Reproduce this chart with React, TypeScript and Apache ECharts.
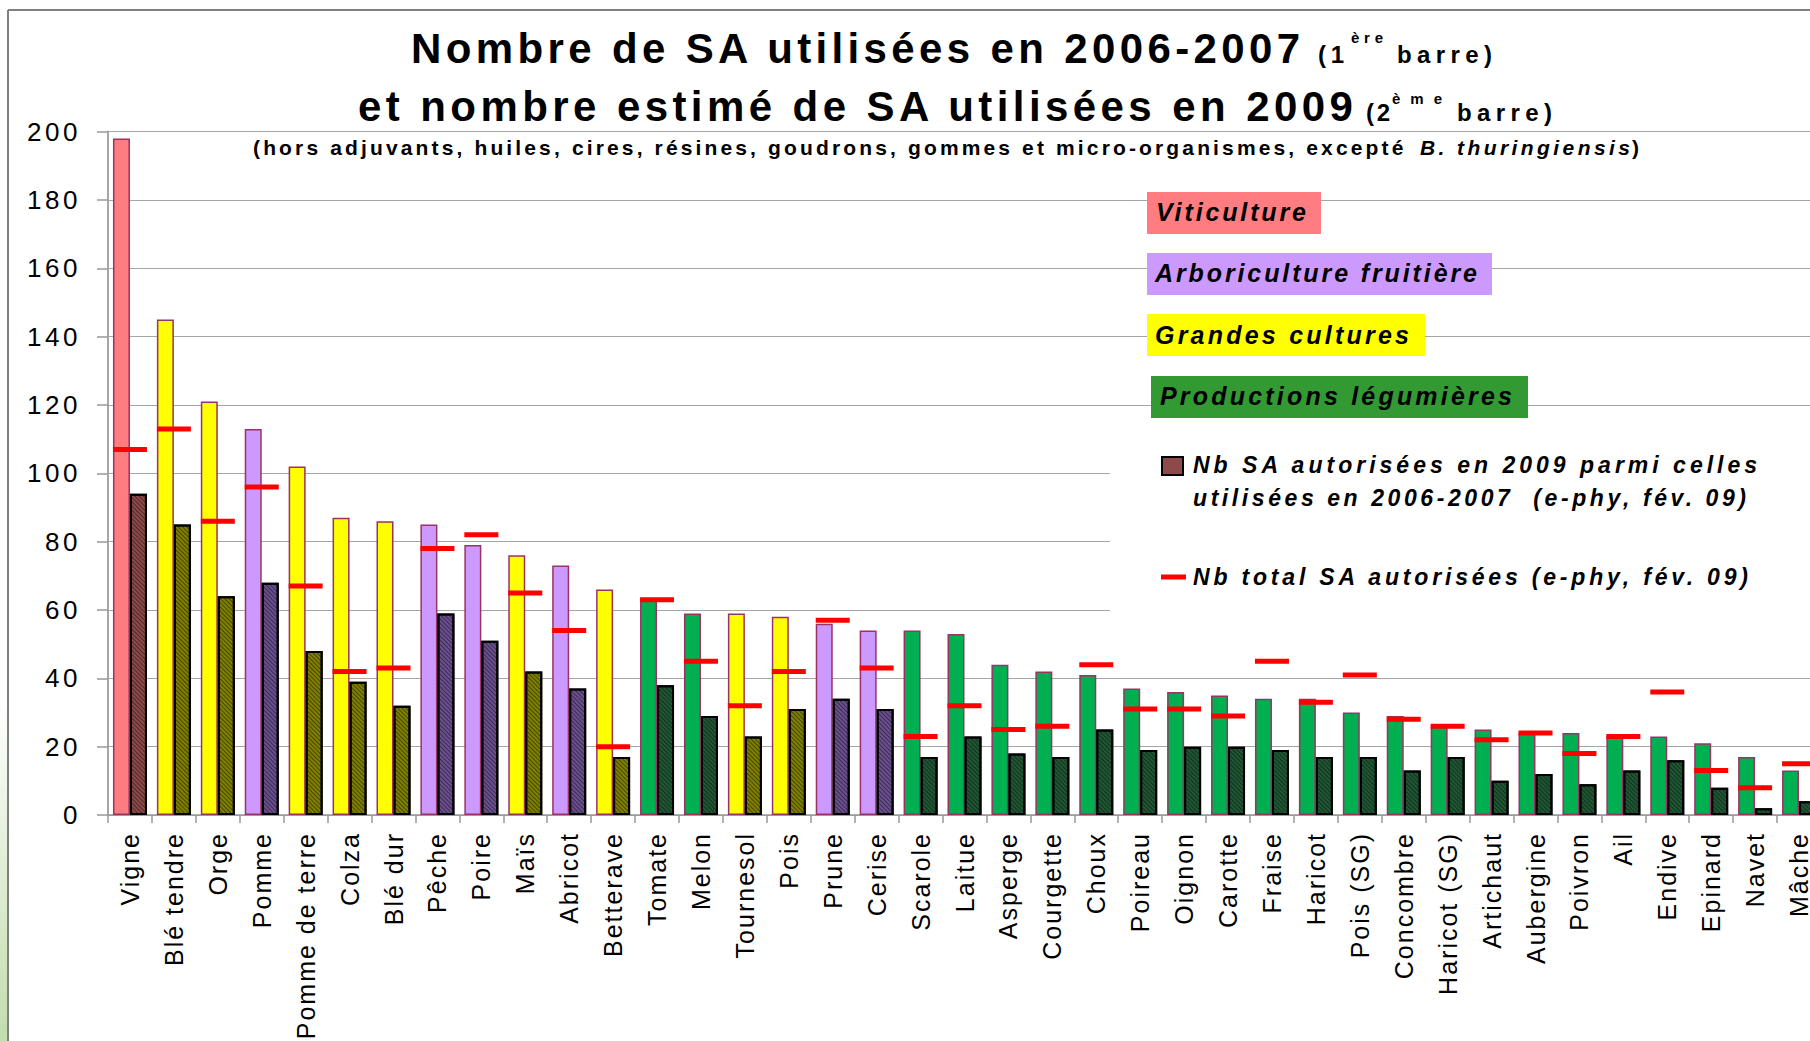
import React, { useEffect, useRef } from 'react';
import * as echarts from 'echarts';

// ---------- DATA ----------
const categories = [
  'Vigne', 'Blé tendre', 'Orge', 'Pomme', 'Pomme de terre', 'Colza', 'Blé dur', 'Pêche', 'Poire', 'Maïs',
  'Abricot', 'Betterave', 'Tomate', 'Melon', 'Tournesol', 'Pois', 'Prune', 'Cerise', 'Scarole', 'Laitue',
  'Asperge', 'Courgette', 'Choux', 'Poireau', 'Oignon', 'Carotte', 'Fraise', 'Haricot', 'Pois (SG)', 'Concombre',
  'Haricot (SG)', 'Artichaut', 'Aubergine', 'Poivron', 'Ail', 'Endive', 'Epinard', 'Navet', 'Mâche',
];
// V = Viticulture, A = Arboriculture fruitière, G = Grandes cultures, L = Productions légumières
const groups = [
  'V', 'G', 'G', 'A', 'G', 'G', 'G', 'A', 'A', 'G',
  'A', 'G', 'L', 'L', 'G', 'G', 'A', 'A', 'L', 'L',
  'L', 'L', 'L', 'L', 'L', 'L', 'L', 'L', 'L', 'L',
  'L', 'L', 'L', 'L', 'L', 'L', 'L', 'L', 'L',
];
const used20062007 = [
  198, 145, 121, 113, 102, 87, 86, 85, 79, 76,
  73, 66, 63, 59, 59, 58, 56, 54, 54, 53,
  44, 42, 41, 37, 36, 35, 34, 34, 30, 29,
  26, 25, 24, 24, 23, 23, 21, 17, 13,
];
const authorized2009 = [
  94, 85, 64, 68, 48, 39, 32, 59, 51, 42,
  37, 17, 38, 29, 23, 31, 34, 31, 17, 23,
  18, 17, 25, 19, 20, 20, 19, 17, 17, 13,
  17, 10, 12, 9, 13, 16, 8, 2, 4,
];
const totalAuthorized = [
  107, 113, 86, 96, 67, 42, 43, 78, 82, 65,
  54, 20, 63, 45, 32, 42, 57, 43, 23, 32,
  25, 26, 44, 31, 31, 29, 45, 33, 41, 28,
  26, 22, 24, 18, 23, 36, 13, 8, 15,
];
const yTickLabels = ['0', '20', '40', '60', '80', '100', '120', '140', '160', '180', '200'];
const yMax = 200;
const yInterval = 20;

const groupLegend = [
  { key: 'V', label: 'Viticulture' },
  { key: 'A', label: 'Arboriculture fruitière' },
  { key: 'G', label: 'Grandes cultures' },
  { key: 'L', label: 'Productions légumières' },
];
const seriesNames = [
  'Nb SA utilisées en 2006-2007',
  'Nb SA autorisées en 2009 parmi celles utilisées en 2006-2007 (e-phy, fév. 09)',
  'Nb total SA autorisées (e-phy, fév. 09)',
];

// ---------- STYLE ----------
const FONT = '"Liberation Sans", Arial, Helvetica, sans-serif';
const lightColors: Record<string, string> = { V: '#FF7C80', A: '#CC99FF', G: '#FFFF00', L: '#00B050' };
const darkColors: Record<string, string> = { V: '#8E4A4A', A: '#6B5090', G: '#808000', L: '#205835' };
const legendBoxColors: Record<string, string> = { V: '#FF7C80', A: '#CC99FF', G: '#FFFF00', L: '#339933' };

// visual widths (px) used to reproduce the wide letter-spacing of the original
const spacingTargets: Record<string, number> = {
  'Nombre de SA utilisées en 2006-2007': 889,
  'et nombre estimé de SA utilisées en 2009': 995,
  '(1': 26,
  '(2': 24,
  'ère': 32,
  'ème': 50,
  'barre)': 95,
  '(hors adjuvants, huiles, cires, résines, goudrons, gommes et micro-organismes, excepté ': 1159,
  'B. thuringiensis': 210,
  'Viticulture': 150,
  'Arboriculture fruitière': 322,
  'Grandes cultures': 254,
  'Productions légumières': 352,
  'Nb SA autorisées en 2009 parmi celles': 564,
  'utilisées en 2006-2007  (e-phy, fév. 09)': 553,
  'Nb total SA autorisées (e-phy, fév. 09)': 555,
};

const txt = (
  text: string, x: number, y: number, fontSize: number,
  fontStyle = 'normal', fontWeight = 'bold'
) => ({
  type: 'text',
  x, y, z: 30, silent: true,
  style: {
    text, fill: '#000', fontSize, fontWeight, fontStyle, fontFamily: FONT,
    textAlign: 'left', textVerticalAlign: 'middle', align: 'left', verticalAlign: 'middle',
  },
});

function applySpacing(root: HTMLElement) {
  const ySet = new Set(yTickLabels);
  const cSet = new Set(categories);
  root.querySelectorAll('text').forEach((node) => {
    const t = node as SVGTextElement;
    const s = t.textContent || '';
    let sp: number | null = null;
    if (Object.prototype.hasOwnProperty.call(spacingTargets, s)) {
      t.removeAttribute('letter-spacing');
      const len = t.getComputedTextLength();
      if (s.length > 1) sp = (spacingTargets[s] - len) / (s.length - 1);
    } else if (ySet.has(s)) {
      sp = 3.5;
    } else if (cSet.has(s)) {
      sp = 2;
    }
    if (sp !== null && isFinite(sp)) t.setAttribute('letter-spacing', sp.toFixed(2));
  });
}

export default function App() {
  const ref = useRef<HTMLDivElement>(null);

  useEffect(() => {
    if (!ref.current) return;
    const chart = echarts.init(ref.current, undefined, { renderer: 'svg' });

    const hatch = {
      symbol: 'rect',
      symbolSize: 1,
      color: 'rgba(0,0,0,0.45)',
      dashArrayX: [1, 0],
      dashArrayY: [1, 2],
      rotation: Math.PI / 4,
    };

    const graphic: any[] = [
      // slide frame
      { type: 'rect', z: 0, silent: true, shape: { x: 0, y: 700, width: 8, height: 341 },
        style: { fill: new echarts.graphic.LinearGradient(0, 0, 0, 1, [
          { offset: 0, color: 'rgba(255,255,255,1)' }, { offset: 1, color: '#C2DCAC' }]) } },
      { type: 'line', z: 30, silent: true, shape: { x1: 8, y1: 10, x2: 1830, y2: 10 }, style: { stroke: '#808080', lineWidth: 2 } },
      { type: 'line', z: 30, silent: true, shape: { x1: 8, y1: 10, x2: 8, y2: 1041 }, style: { stroke: '#808080', lineWidth: 2 } },
      // titles
      txt('Nombre de SA utilisées en 2006-2007', 411, 48, 42),
      txt('(1', 1318, 54, 24),
      txt('ère', 1351, 37, 15),
      txt('barre)', 1397, 54, 24),
      txt('et nombre estimé de SA utilisées en 2009', 358, 106, 42),
      txt('(2', 1366, 112, 24),
      txt('ème', 1392, 98, 15),
      txt('barre)', 1457, 112, 24),
      txt('(hors adjuvants, huiles, cires, résines, goudrons, gommes et micro-organismes, excepté ', 253, 147, 21),
      txt('B. thuringiensis', 1420, 147, 21, 'italic'),
      txt(')', 1632, 147, 21),
      // white background behind the series legend
      { type: 'rect', z: 20, silent: true, shape: { x: 1110, y: 440, width: 730, height: 192 }, style: { fill: '#fff' } },
      // series legend
      { type: 'rect', z: 30, silent: true, shape: { x: 1162, y: 457, width: 21, height: 18 },
        style: { fill: darkColors.V, stroke: '#000', lineWidth: 2 } },
      txt('Nb SA autorisées en 2009 parmi celles', 1193, 465, 23, 'italic'),
      txt('utilisées en 2006-2007  (e-phy, fév. 09)', 1193, 498, 23, 'italic'),
      { type: 'rect', z: 30, silent: true, shape: { x: 1161, y: 574.5, width: 25, height: 5 }, style: { fill: '#FF0000' } },
      txt('Nb total SA autorisées (e-phy, fév. 09)', 1193, 577, 23, 'italic'),
    ];

    const boxGeom = [
      { x: 1147, y: 192, w: 174, tx: 1156, ty: 212 },
      { x: 1147, y: 253, w: 345, tx: 1155, ty: 273 },
      { x: 1147, y: 314, w: 278, tx: 1155, ty: 335 },
      { x: 1151, y: 376, w: 377, tx: 1160, ty: 396 },
    ];
    groupLegend.forEach((g, i) => {
      const b = boxGeom[i];
      graphic.push({ type: 'rect', z: 25, silent: true, shape: { x: b.x, y: b.y, width: b.w, height: 42 },
        style: { fill: legendBoxColors[g.key] } });
      graphic.push(txt(g.label, b.tx, b.ty, 25, 'italic'));
    });

    chart.setOption({
      animation: false,
      backgroundColor: '#ffffff',
      grid: { left: 108, right: 9, top: 131.6, bottom: 226, containLabel: false },
      xAxis: {
        type: 'category',
        data: categories,
        axisLine: { show: true, lineStyle: { color: '#999999', width: 1.5 } },
        axisTick: { show: true, alignWithLabel: false, length: 8, lineStyle: { color: '#999999', width: 1.5 } },
        axisLabel: { interval: 0, rotate: 90, fontSize: 25, color: '#000', fontFamily: FONT, margin: 17 },
        splitLine: { show: false },
      },
      yAxis: {
        type: 'value',
        min: 0,
        max: yMax,
        interval: yInterval,
        axisLine: { show: true, lineStyle: { color: '#A6A6A6', width: 2 } },
        axisTick: { show: true, length: 11, lineStyle: { color: '#999999', width: 1.5 } },
        axisLabel: { fontSize: 26, color: '#000', fontFamily: FONT, margin: 27,
          formatter: (v: number) => yTickLabels[Math.round(v / yInterval)] ?? String(v) },
        splitLine: { show: true, lineStyle: { color: '#A6A6A6', width: 1.2 } },
      },
      series: [
        {
          name: seriesNames[0],
          type: 'bar',
          barWidth: 17,
          barGap: '0%',
          z: 2,
          silent: true,
          data: used20062007.map((v, i) => ({
            value: v,
            itemStyle: { color: lightColors[groups[i]], borderColor: '#993366', borderWidth: 1.5 },
          })),
        },
        {
          name: seriesNames[1],
          type: 'bar',
          barWidth: 17,
          barGap: '0%',
          z: 2,
          silent: true,
          itemStyle: { decal: hatch },
          data: authorized2009.map((v, i) => ({
            value: v,
            itemStyle: { color: darkColors[groups[i]], borderColor: '#000000', borderWidth: 2 },
          })),
        },
        {
          name: seriesNames[2],
          type: 'scatter',
          symbol: 'rect',
          symbolSize: [34, 5],
          z: 5,
          silent: true,
          itemStyle: { color: '#FF0000', opacity: 1 },
          data: totalAuthorized,
        },
      ],
      graphic,
    });

    const el = ref.current;
    applySpacing(el);
    const onFinished = () => applySpacing(el);
    chart.on('finished', onFinished);
    const t = setTimeout(() => applySpacing(el), 50);

    return () => {
      clearTimeout(t);
      chart.off('finished', onFinished);
      chart.dispose();
    };
  }, []);

  return (
    <div style={{ position: 'fixed', left: 0, top: 0, width: 1810, height: 1041, overflow: 'hidden', background: '#fff' }}>
      <div ref={ref} style={{ width: 1830, height: 1041 }} />
    </div>
  );
}
